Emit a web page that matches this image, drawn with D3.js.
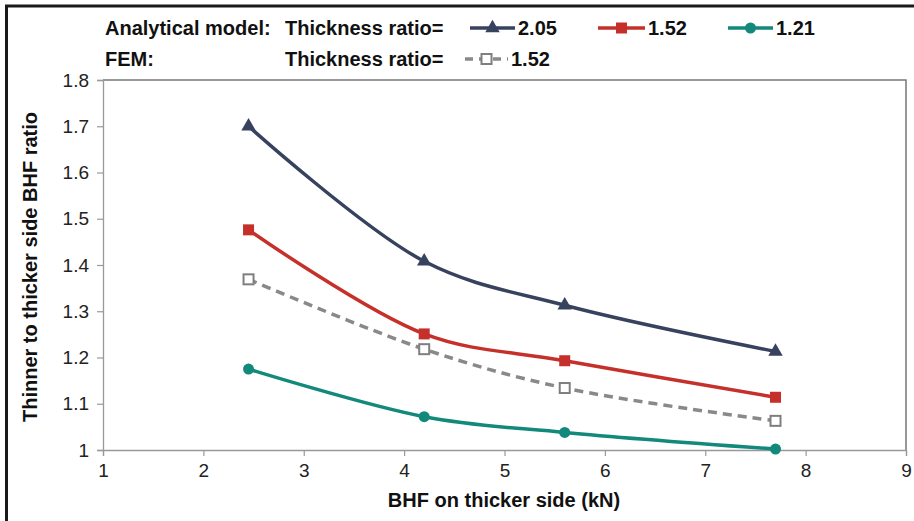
<!DOCTYPE html>
<html>
<head>
<meta charset="utf-8">
<script src="https://cdn.jsdelivr.net/npm/d3@7"></script>
<style>
  body { margin: 0; background: #fff; }
  svg { display: block; font-family: "Liberation Sans", Arial, sans-serif; }
</style>
</head>
<body>
<svg id="chart"></svg>
<script>
const width = 914;
const height = 521;

// data
const bhf = [2.45, 4.2, 5.6, 7.7];
const ratio205 = [1.70, 1.408, 1.313, 1.213];
const ratio152 = [1.476, 1.251, 1.193, 1.114];
const fem152 = [1.369, 1.218, 1.134, 1.063];
const ratio121 = [1.175, 1.072, 1.038, 1.002];
const xTicks = [1, 2, 3, 4, 5, 6, 7, 8, 9];
const yTicks = [1, 1.1, 1.2, 1.3, 1.4, 1.5, 1.6, 1.7, 1.8];

const series = [
  {name: "2.05", values: ratio205, color: "#37425e", marker: "triangle", dash: null},
  {name: "1.52", values: ratio152, color: "#c6302b", marker: "square", dash: null},
  {name: "1.52", values: fem152, color: "#8c8886", marker: "opensquare", dash: "9,6"},
  {name: "1.21", values: ratio121, color: "#12897a", marker: "circle", dash: null}
];

const margin = {left: 103, right: 8, top: 80, bottom: 71};
const svg = d3.select("#chart").attr("width", width).attr("height", height);

const x = d3.scaleLinear().domain([1, 9]).range([margin.left, width - margin.right]);
const y = d3.scaleLinear().domain([1, 1.8]).range([height - margin.bottom, margin.top]);

// outer frame (top + left)
svg.append("line").attr("x1", 5).attr("x2", width).attr("y1", 6).attr("y2", 6)
  .attr("stroke", "#1a1a1a").attr("stroke-width", 3);
svg.append("line").attr("x1", 6.5).attr("x2", 6.5).attr("y1", 5).attr("y2", height)
  .attr("stroke", "#1a1a1a").attr("stroke-width", 3);

// plot box top + right
svg.append("path")
  .attr("d", `M${x(1)},${y(1.8)}H${x(9)}V${y(1)}`)
  .attr("fill", "none").attr("stroke", "#777").attr("stroke-width", 1.5);

// axes
const xAxis = svg.append("g")
  .attr("transform", `translate(0,${y(1)})`)
  .call(d3.axisBottom(x).tickValues(xTicks).tickSize(6).tickPadding(5).tickFormat(d3.format("d")));
const yAxis = svg.append("g")
  .attr("transform", `translate(${x(1)},0)`)
  .call(d3.axisLeft(y).tickValues(yTicks).tickSize(6).tickPadding(8).tickFormat(d => d === 1 ? "1" : d3.format(".1f")(d)));

[xAxis, yAxis].forEach(a => {
  a.attr("font-size", null).attr("font-family", null);
  a.select(".domain").attr("stroke", "#999").attr("stroke-width", 1.3);
  a.selectAll(".tick line").attr("stroke", "#999").attr("stroke-width", 1.2);
  a.selectAll(".tick text").attr("fill", "#222").style("font-size", "19px");
});
xAxis.selectAll(".tick text").attr("dy", "0.85em");

// axis titles
svg.append("text")
  .attr("x", 504).attr("y", 507)
  .attr("text-anchor", "middle")
  .style("font-size", "20px").style("font-weight", "bold").attr("fill", "#111")
  .text("BHF on thicker side (kN)");
svg.append("text")
  .attr("transform", `translate(37,${(y(1) + y(1.8)) / 2 + 2}) rotate(-90)`)
  .attr("text-anchor", "middle")
  .style("font-size", "20px").style("font-weight", "bold").attr("fill", "#111")
  .text("Thinner to thicker side BHF ratio");

const line = d3.line()
  .x((d, i) => x(bhf[i]))
  .y(d => y(d))
  .curve(d3.curveCatmullRom.alpha(0.5));

function drawMarker(g, type, color, cx, cy) {
  if (type === "triangle") {
    g.append("path").attr("d", d3.symbol(d3.symbolTriangle, 90)())
      .attr("transform", `translate(${cx},${cy})`).attr("fill", color);
  } else if (type === "square") {
    g.append("rect").attr("x", cx - 5.5).attr("y", cy - 5.5).attr("width", 11).attr("height", 11)
      .attr("fill", color);
  } else if (type === "opensquare") {
    g.append("rect").attr("x", cx - 5).attr("y", cy - 5).attr("width", 10).attr("height", 10)
      .attr("fill", "#fff").attr("stroke", "#7f7f7f").attr("stroke-width", 2);
  } else {
    g.append("circle").attr("cx", cx).attr("cy", cy).attr("r", 5.5).attr("fill", color);
  }
}

const plot = svg.append("g");
series.forEach(s => {
  plot.append("path")
    .datum(s.values)
    .attr("d", line)
    .attr("fill", "none")
    .attr("stroke", s.color)
    .attr("stroke-width", 3.5)
    .attr("stroke-dasharray", s.dash);
  s.values.forEach((v, i) => drawMarker(plot, s.marker, s.color, x(bhf[i]), y(v)));
});

// legend
const legend = svg.append("g").style("font-size", "20px").style("font-weight", "bold").attr("fill", "#111");
legend.append("text").attr("x", 105).attr("y", 35).text("Analytical model:");
legend.append("text").attr("x", 285).attr("y", 35).text("Thickness ratio=");
legend.append("text").attr("x", 105).attr("y", 66).text("FEM:");
legend.append("text").attr("x", 285).attr("y", 66).text("Thickness ratio=");

const legendItems = [
  {s: series[0], x0: 470, x1: 515, ty: 35},
  {s: series[1], x0: 598, x1: 645, ty: 35},
  {s: series[3], x0: 728, x1: 773, ty: 35},
  {s: series[2], x0: 465, x1: 508, ty: 66}
];
legendItems.forEach(it => {
  const cy = it.ty - 7;
  legend.append("line")
    .attr("x1", it.x0).attr("x2", it.x1).attr("y1", cy).attr("y2", cy)
    .attr("stroke", it.s.color).attr("stroke-width", 3.5)
    .attr("stroke-dasharray", it.s.dash ? "8,6" : null);
  drawMarker(legend, it.s.marker, it.s.color, (it.x0 + it.x1) / 2, cy);
  legend.append("text").attr("x", it.x1 + 3).attr("y", it.ty).text(it.s.name);
});
</script>
</body>
</html>
